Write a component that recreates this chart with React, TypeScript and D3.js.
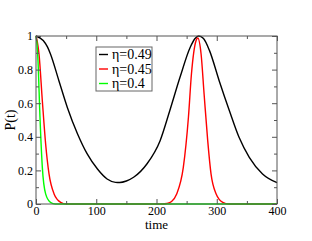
import React, { useEffect, useRef } from 'react';
import * as d3 from 'd3';

// P(t) for each eta
const tBlack = [0, 12, 19, 24, 38, 52, 69, 85, 102, 118, 132, 139, 150, 162, 184, 206, 222, 239, 256, 264, 270, 278, 288, 304, 321, 337, 354, 376, 400];
const pBlack = [1, 0.973, 0.935, 0.893, 0.734, 0.575, 0.417, 0.298, 0.208, 0.149, 0.129, 0.128, 0.137, 0.159, 0.238, 0.377, 0.555, 0.754, 0.933, 0.985, 1.0, 0.985, 0.913, 0.734, 0.555, 0.397, 0.278, 0.179, 0.127];

const tRed = [0, 2, 5, 10.5, 16, 21.6, 30, 41, 50, 210, 217, 225, 233.5, 244.5, 253, 258, 265.6, 268.5, 274, 279, 285, 290.5, 299, 310, 320, 400];
const pRed = [1, 0.97, 0.893, 0.615, 0.357, 0.179, 0.06, 0.01, 0, 0, 0.003, 0.015, 0.06, 0.218, 0.516, 0.774, 0.972, 0.988, 0.893, 0.655, 0.377, 0.179, 0.06, 0.01, 0, 0];

const tGreen = [0, 1.5, 3.3, 6.6, 10.5, 16, 24, 32, 400];
const pGreen = [1, 0.96, 0.853, 0.516, 0.218, 0.06, 0.01, 0, 0];

const seriesNames = ['η=0.49', 'η=0.45', 'η=0.4'];
const seriesColors = ['#000000', '#ff0000', '#00ff00'];

const xTicks = [0, 100, 200, 300, 400];
const xMinor = [50, 150, 250, 350];
const yTicks = [0, 0.2, 0.4, 0.6, 0.8, 1];
const yMinor = [0.1, 0.3, 0.5, 0.7, 0.9];

const W = 312;
const H = 241;
const FONT = '"Liberation Serif", "Times New Roman", serif';

export default function App() {
  const svgRef = useRef<SVGSVGElement>(null);

  useEffect(() => {
    const svg = d3.select(svgRef.current);
    svg.selectAll('*').remove();

    const left = 36, right = 277, top = 36, bottom = 204;
    const x = d3.scaleLinear().domain([0, 400]).range([left, right]);
    const y = d3.scaleLinear().domain([0, 1]).range([bottom, top]);

    const series = [
      { t: tBlack, p: pBlack },
      { t: tRed, p: pRed },
      { t: tGreen, p: pGreen },
    ];

    const line = d3.line<[number, number]>()
      .x(d => x(d[0]))
      .y(d => y(d[1]))
      .curve(d3.curveMonotoneX);

    series.forEach((s, i) => {
      const pts = s.t.map((t, k) => [t, s.p[k]] as [number, number]);
      svg.append('path')
        .attr('d', line(pts))
        .attr('fill', 'none')
        .attr('stroke', seriesColors[i])
        .attr('stroke-width', 1.4);
    });

    // frame
    svg.append('rect')
      .attr('x', left).attr('y', top)
      .attr('width', right - left).attr('height', bottom - top)
      .attr('fill', 'none').attr('stroke', '#555').attr('stroke-width', 1);

    const styleAxis = (g: any) => {
      g.select('.domain').remove();
      g.selectAll('line').attr('stroke', '#555');
      g.selectAll('text')
        .attr('font-family', FONT)
        .attr('font-size', 12)
        .attr('fill', '#000');
    };

    // major ticks with labels
    svg.append('g')
      .attr('transform', `translate(0,${bottom})`)
      .call(d3.axisBottom(x).tickValues(xTicks).tickSize(-5).tickPadding(2).tickFormat(d => String(d)))
      .call(styleAxis);
    svg.append('g')
      .attr('transform', `translate(${left},0)`)
      .call(d3.axisLeft(y).tickValues(yTicks).tickSize(-5).tickPadding(3).tickFormat(d => String(d)))
      .call(styleAxis);
    svg.append('g')
      .attr('transform', `translate(0,${top})`)
      .call(d3.axisTop(x).tickValues(xTicks).tickSize(-5).tickFormat(() => ''))
      .call(styleAxis);
    svg.append('g')
      .attr('transform', `translate(${right},0)`)
      .call(d3.axisRight(y).tickValues(yTicks).tickSize(-5).tickFormat(() => ''))
      .call(styleAxis);

    // minor ticks
    svg.append('g')
      .attr('transform', `translate(0,${bottom})`)
      .call(d3.axisBottom(x).tickValues(xMinor).tickSize(-3).tickFormat(() => ''))
      .call(styleAxis);
    svg.append('g')
      .attr('transform', `translate(0,${top})`)
      .call(d3.axisTop(x).tickValues(xMinor).tickSize(-3).tickFormat(() => ''))
      .call(styleAxis);
    svg.append('g')
      .attr('transform', `translate(${left},0)`)
      .call(d3.axisLeft(y).tickValues(yMinor).tickSize(-3).tickFormat(() => ''))
      .call(styleAxis);
    svg.append('g')
      .attr('transform', `translate(${right},0)`)
      .call(d3.axisRight(y).tickValues(yMinor).tickSize(-3).tickFormat(() => ''))
      .call(styleAxis);

    // axis titles
    svg.append('text')
      .attr('x', (left + right) / 2)
      .attr('y', 229)
      .attr('text-anchor', 'middle')
      .attr('font-family', FONT)
      .attr('font-size', 13)
      .text('time');
    svg.append('text')
      .attr('transform', `translate(15,${(top + bottom) / 2}) rotate(-90)`)
      .attr('text-anchor', 'middle')
      .attr('font-family', FONT)
      .attr('font-size', 14)
      .text('P(t)');

    // legend
    const lg = svg.append('g').attr('transform', 'translate(96,47)');
    lg.append('rect')
      .attr('width', 56).attr('height', 44)
      .attr('fill', '#fff').attr('stroke', '#666').attr('stroke-width', 1);
    seriesNames.forEach((name, i) => {
      const yy = 7.5 + i * 14.5;
      lg.append('line')
        .attr('x1', 3).attr('x2', 12)
        .attr('y1', yy).attr('y2', yy)
        .attr('stroke', seriesColors[i]).attr('stroke-width', 1.4);
      lg.append('text')
        .attr('x', 16).attr('y', yy)
        .attr('dy', '0.35em')
        .attr('font-family', FONT)
        .attr('font-size', 14)
        .text(name);
    });
  }, []);

  return (
    <svg
      ref={svgRef}
      width={W}
      height={H}
      style={{ position: 'fixed', left: 0, top: 0, background: '#fff' }}
    />
  );
}
